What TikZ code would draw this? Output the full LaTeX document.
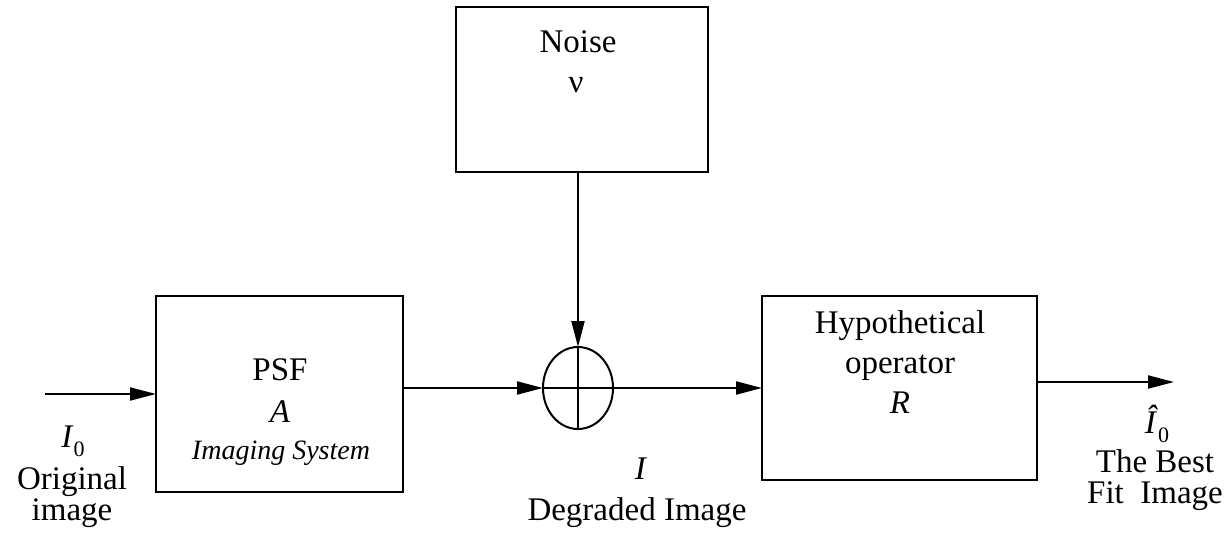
\documentclass[tikz,border=0pt]{standalone}
\usepackage{fontspec}
\setmainfont{Liberation Serif}
\usetikzlibrary{arrows.meta,shapes.geometric}
\newcommand{\subz}{\raisebox{-0.28em}{\fontsize{11}{11}\selectfont 0}}
\begin{document}
\begin{tikzpicture}[x=0.5pt,y=-0.5pt,
  box/.style={draw,line width=1pt,inner sep=0pt,outer sep=0pt},
  flow/.style={line width=1pt,-{Triangle[length=13pt,width=6.5pt]}},
  link/.style={line width=1pt},
  txt/.style={inner sep=0pt,anchor=base,font=\fontsize{16.5}{20}\selectfont},
  note/.style={inner sep=0pt,anchor=base,font=\fontsize{14}{17}\selectfont\itshape}]
\useasboundingbox (0,0) rectangle (1228,532);

% blocks
\node[box,minimum width=126pt,minimum height=82.5pt] (noise) at (582,89.5) {};
\node[box,minimum width=123.5pt,minimum height=98pt] (psf) at (279.5,394) {};
\node[box,minimum width=137.5pt,minimum height=92pt] (hyp) at (899.5,388) {};
\node[box,ellipse,minimum width=35pt,minimum height=41pt] (sum) at (578,388) {};
\draw[link] (sum.north) -- (sum.south);
\draw[link] (sum.west) -- (sum.east);

% texts inside the blocks
\node[txt] (noiset) at (578,52) {Noise};
\node[txt] (nu) at (576,92) {ν};
\node[txt] (psft) at (280,380) {PSF};
\node[txt] (psfa) at (280,422) {\textit{A}};
\node[note] (psfs) at (281,459) {Imaging System};
\node[txt] (hypt) at (900,333) {Hypothetical};
\node[txt] (hypo) at (900,373) {operator};
\node[txt] (hypr) at (900,413) {\textit{R}};

% signal labels
\node[txt] (i0) at (73,447) {\textit{I}\subz};
\node[txt] (orig1) at (72,489) {Original};
\node[txt] (orig2) at (72,520) {image};
\node[txt] (deg1) at (641,479) {\textit{I}};
\node[txt] (deg2) at (637,520) {Degraded Image};
\node[txt] (fit0) at (1157,433) {\textit{Î}\subz};
\node[txt] (fit1) at (1155,472) {The Best};
\node[txt] (fit2) at (1155,503) {Fit\ \ Image};

% connectors
\coordinate (src) at (45,394);
\coordinate (dst) at (1174,382);
\draw[flow] (src) -- (psf.west |- src);
\draw[flow] (psf.east |- sum) -- (sum.west);
\draw[flow] (noise.south -| sum) -- (sum.north);
\draw[flow] (sum.east) -- (hyp.west |- sum);
\draw[flow] (hyp.east |- dst) -- (dst);
\end{tikzpicture}
\end{document}
